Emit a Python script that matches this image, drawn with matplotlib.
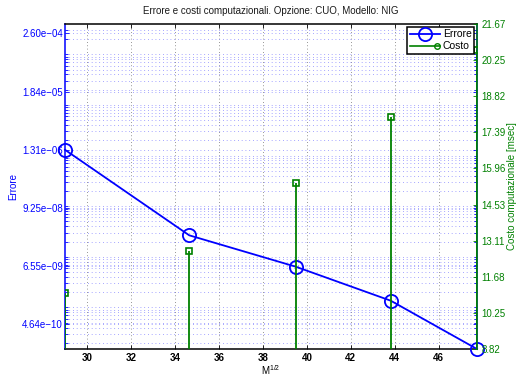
import numpy as np
import matplotlib
matplotlib.use("Agg")
import matplotlib.pyplot as plt
from matplotlib.lines import Line2D
from matplotlib.legend_handler import HandlerBase
from matplotlib.ticker import LogLocator, NullFormatter, FixedLocator

plt.rcParams['font.family'] = ['Liberation Sans', 'DejaVu Sans']
plt.rcParams['mathtext.default'] = 'regular'

# Data: sqrt of sample count, estimation error and computational cost
sqrt_m = [28.98, 34.64, 39.50, 43.82, 47.75]
errore = [1.30e-06, 2.66e-08, 6.37e-09, 1.36e-09, 1.51e-10]
costo = [11.03, 12.69, 15.38, 17.99, 20.641]

x_ticks = [30, 32, 34, 36, 38, 40, 42, 44, 46]
err_ticks = [4.64e-10, 6.55e-09, 9.25e-08, 1.31e-06, 1.84e-05, 2.60e-04]
err_tick_labels = ['4.64e\u221210', '6.55e\u221209', '9.25e\u221208',
                   '1.31e\u221206', '1.84e\u221205', '2.60e\u221204']
err_lim = [1.51e-10, 3.97e-04]
cost_lim = [0.8 * min(costo), 1.05 * max(costo)]

BLUE = (0, 0, 1)
GREEN = (0, 0.5, 0)

fig = plt.figure(figsize=(5.19, 3.78), dpi=100)
ax1 = fig.add_axes([0.1252, 0.0767, 0.7938, 0.8598])
ax2 = ax1.twinx()

# Left axis: error on log scale
ax1.set_yscale('log')
ax1.set_xlim(sqrt_m[0], sqrt_m[-1])
ax1.set_ylim(*err_lim)
ax1.plot(sqrt_m, errore, color=BLUE, lw=1.3, marker='o', ms=9.5,
         mfc='none', mec=BLUE, mew=1.3, zorder=5, clip_on=False)

ax1.yaxis.set_major_locator(FixedLocator(err_ticks))
ax1.set_yticklabels(err_tick_labels)
ax1.yaxis.set_minor_locator(LogLocator(base=10, subs=np.arange(1, 10), numticks=50))
ax1.yaxis.set_minor_formatter(NullFormatter())
ax1.set_xticks(x_ticks)

ax1.grid(True, which='minor', axis='y', color=(0.45, 0.45, 1.0),
         linestyle=(0, (1, 3.5)), lw=0.6, alpha=0.85)
ax1.grid(True, which='major', axis='y', color=(0.45, 0.45, 1.0),
         linestyle=(0, (1, 3.5)), lw=0.6, alpha=0.85)
ax1.grid(True, which='major', axis='x', color=(0.45, 0.45, 0.45),
         linestyle=(0, (1, 3)), lw=0.6)

ax1.tick_params(axis='y', which='both', direction='in', colors=BLUE,
                right=True, labelsize=7, length=3, width=0.6, pad=1.5)
ax1.tick_params(axis='y', which='minor', length=2)
ax1.tick_params(axis='x', direction='in', top=True, labelsize=7,
                colors='black', length=3, width=0.6, pad=3)
for lab in ax1.get_xticklabels():
    lab.set_fontweight('bold')

ax1.spines['left'].set_color(BLUE)
ax1.spines['right'].set_color(BLUE)
for s in ax1.spines.values():
    s.set_linewidth(1.1)
ax1.spines['top'].set_color('black')
ax1.spines['bottom'].set_color('black')

ax1.set_ylabel('Errore', color=BLUE, fontsize=7, labelpad=3)
ax1.set_xlabel('M$^{1/2}$', fontsize=7, labelpad=0)
ax1.set_title('Errore e costi computazionali. Opzione: CUO, Modello: NIG',
              fontsize=7, pad=7, color=(0.1, 0.1, 0.1))

# Right axis: computational cost as stems
cost_ticks = np.linspace(cost_lim[0], cost_lim[1], 10)
ax2.set_ylim(*cost_lim)
ax2.vlines(sqrt_m, 0, costo, color=GREEN, lw=1.3, zorder=3)
ax2.plot(sqrt_m, costo, ls='none', marker='s', ms=5, mfc='none',
         mec=GREEN, mew=1.2, zorder=4)
ax2.set_yticks(cost_ticks)
ax2.set_yticklabels(['%.2f' % v for v in cost_ticks])
ax2.tick_params(axis='y', direction='in', colors=GREEN, labelsize=7,
                length=3, width=0.6, pad=3)
ax2.spines['right'].set_color(GREEN)
ax2.spines['right'].set_linewidth(1.1)
for k in ('left', 'top', 'bottom'):
    ax2.spines[k].set_visible(False)
ax2.set_ylabel('Costo computazionale [msec]', color=GREEN, fontsize=7, labelpad=1)


class StemHandler(HandlerBase):
    def create_artists(self, legend, orig, xd, yd, w, h, fontsize, trans):
        y = h / 2 - yd
        line = Line2D([-xd, -xd + w], [y, y], color=GREEN, lw=1.2)
        mk = Line2D([-xd + w * 0.88], [y], marker='o', ms=4, mfc='none',
                    mec=GREEN, mew=1.0, ls='none')
        line.set_transform(trans)
        mk.set_transform(trans)
        return [line, mk]


h_err = Line2D([], [], color=BLUE, lw=1.3, marker='o', ms=9.5, mfc='none',
               mec=BLUE, mew=1.3)
h_cost = Line2D([], [], color=GREEN)
leg = ax2.legend([h_err, h_cost], ['Errore', 'Costo'], loc='upper right',
                 fontsize=7.5, handlelength=2.9, handletextpad=0.25,
                 borderaxespad=0.25, borderpad=0.25, labelspacing=0.2,
                 fancybox=False, framealpha=1, edgecolor='black',
                 handler_map={h_cost: StemHandler()})
leg.get_frame().set_linewidth(1.1)
leg.set_zorder(10)

fig.savefig('out.png', dpi=100)
